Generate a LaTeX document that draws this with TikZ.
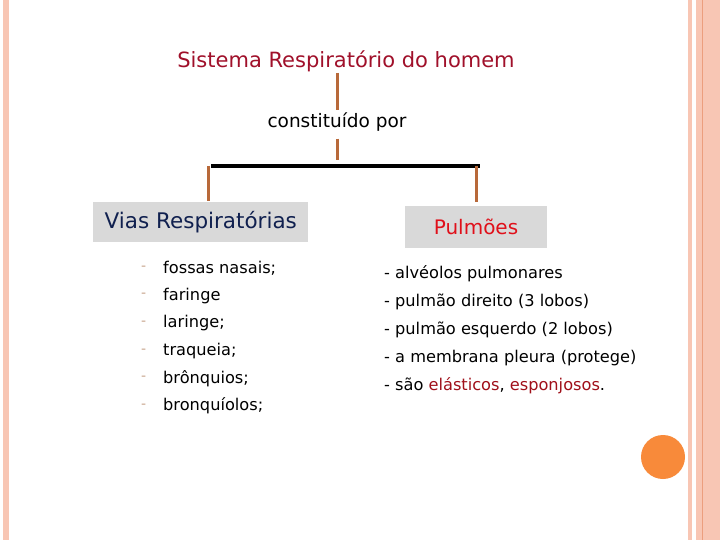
\documentclass[tikz,border=0pt]{standalone}
\usepackage{fontspec}
\setmainfont{DejaVu Sans}
\usetikzlibrary{calc}
\definecolor{salmon}{HTML}{F8C6B4}
\definecolor{stripeline}{HTML}{EC9E7E}
\definecolor{dotorange}{HTML}{F88A3A}
\definecolor{connbrown}{HTML}{B8693A}
\definecolor{titlered}{HTML}{A0102A}
\definecolor{navy}{HTML}{10204F}
\definecolor{pulmred}{HTML}{E0101A}
\definecolor{boxgray}{HTML}{D9D9D9}
\definecolor{dashtan}{HTML}{C8A58C}
\definecolor{darkred}{HTML}{A0101A}
\tikzset{
  conn/.style={draw=connbrown, line width=3pt},
  barline/.style={draw=black, line width=3.5pt},
  titletext/.style={text=titlered, font=\fontsize{21}{24}\selectfont, inner sep=1pt},
  consttext/.style={text=black, font=\fontsize{18.5}{21}\selectfont, inner sep=2pt},
  graybox/.style={fill=boxgray, inner sep=0pt},
  itemtext/.style={anchor=west, inner sep=0pt, font=\fontsize{16.2}{19}\selectfont},
  dashmark/.style={anchor=west, inner sep=0pt, text=dashtan, font=\fontsize{14}{16}\selectfont},
}
\begin{document}
\begin{tikzpicture}[x=1pt,y=-1pt]
\useasboundingbox (0,0) rectangle (720,540);
\fill[white] (0,0) rectangle (720,540);
% side decorations
\fill[salmon] (3,0) rectangle (9,540);
\fill[salmon] (688,0) rectangle (692,540);
\fill[salmon] (696,0) rectangle (720,540);
\draw[stripeline, line width=1pt] (702.5,0) -- (702.5,540);
\fill[dotorange] (663,457) circle (22);
% hierarchy
\node[titletext] (title) at (346,61) {Sistema Respiratório do homem};
\node[consttext] (const) at (337,122) {constituído por};
\coordinate (barL) at (211,166);
\coordinate (barR) at (480,166);
\coordinate (dropL) at (208.5,166);
\coordinate (dropR) at (476.5,166);
\node[graybox, minimum width=215pt, minimum height=40pt, text=navy, font=\fontsize{21.5}{24}\selectfont] (vias) at (200.8,221.7) {Vias Respiratórias};
\node[graybox, minimum width=142pt, minimum height=41pt, text=pulmred, font=\fontsize{20}{23}\selectfont] (pulm) at (476,227) {Pulmões};
\draw[conn] (title.south -| const) -- (const.north);
\draw[conn, shorten <=5pt] (const.south) -- ($(const.south |- barL)+(0,-6)$);
\draw[barline] (barL) -- (barR);
\draw[conn] (dropL) -- (dropL |- vias.north);
\draw[conn, shorten >=4.5pt] (dropR) -- (dropR |- pulm.north);
% left list
\foreach \t [count=\i] in {fossas nasais;, faringe, laringe;, traqueia;, brônquios;, bronquíolos;}{
  \node[dashmark] (d\i) at (141,{240.5+27.6*\i}) {-};
  \node[itemtext] (l\i) at (163,{240.5+27.6*\i}) {\t};
}
% right list
\node[itemtext] (r1) at (384,274) {- alvéolos pulmonares};
\node[itemtext] (r2) at (384,302) {- pulmão direito (3 lobos)};
\node[itemtext] (r3) at (384,330) {- pulmão esquerdo (2 lobos)};
\node[itemtext] (r4) at (384,358) {- a membrana pleura (protege)};
\node[itemtext] (r5) at (384,386) {- são \textcolor{darkred}{elásticos}, \textcolor{darkred}{esponjosos}.};
\end{tikzpicture}
\end{document}
